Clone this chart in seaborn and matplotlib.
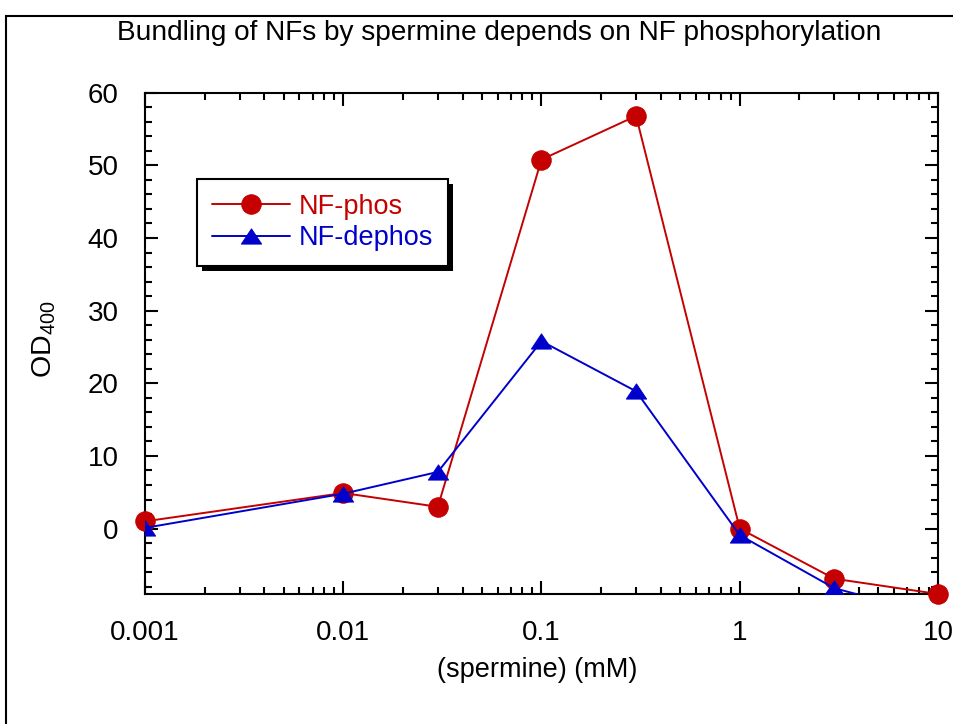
import matplotlib
matplotlib.use('Agg')
import matplotlib.pyplot as plt
import seaborn as sns
import pandas as pd
import matplotlib.patheffects as pe
from matplotlib.patches import Rectangle
from matplotlib.path import Path
from matplotlib.ticker import FixedLocator, FixedFormatter, MultipleLocator, LogLocator, NullFormatter

# ---- data ----
spermine_mM = [0.001, 0.01, 0.03, 0.1, 0.3, 1, 3, 10]
nf_phos = [1.0, 4.9, 3.0, 50.8, 56.8, 0.0, -6.9, -9.0]
nf_dephos = [0.1, 4.8, 7.8, 25.8, 18.9, -0.9, -8.2, -12.0]
series_names = ['NF-phos', 'NF-dephos']
x_ticks = [0.001, 0.01, 0.1, 1, 10]
x_tick_labels = ['0.001', '0.01', '0.1', '1', '10']
y_ticks = [0, 10, 20, 30, 40, 50, 60]
y_tick_labels = ['0', '10', '20', '30', '40', '50', '60']

RED = '#C40000'
BLUE = '#0000CC'

sns.set_style('ticks')
plt.rcParams['font.family'] = ['Liberation Sans', 'DejaVu Sans']
plt.rcParams['mathtext.fontset'] = 'custom'
plt.rcParams['mathtext.rm'] = 'Liberation Sans'
plt.rcParams['mathtext.it'] = 'Liberation Sans'
for k in ['text.color', 'axes.labelcolor', 'xtick.color', 'ytick.color', 'axes.edgecolor']:
    plt.rcParams[k] = 'black'

W, H = 954, 724
fig = plt.figure(figsize=(W / 100, H / 100), dpi=100)
ax = fig.add_axes([145 / W, 130 / H, 793 / W, 501.3 / H])

df = pd.DataFrame({'conc': spermine_mM, series_names[0]: nf_phos, series_names[1]: nf_dephos})

tri = Path([(0, 0.75), (-1, -0.75), (1, -0.75), (0, 0.75)],
           [Path.MOVETO, Path.LINETO, Path.LINETO, Path.CLOSEPOLY])

sns.lineplot(data=df, x='conc', y=series_names[0], color=RED, marker='o',
             markersize=14, markeredgecolor=RED, linewidth=1.4,
             label=series_names[0], ax=ax, zorder=3)
sns.lineplot(data=df, x='conc', y=series_names[1], color=BLUE, marker=tri,
             markersize=14.5, markeredgecolor=BLUE, linewidth=1.4,
             label=series_names[1], ax=ax, zorder=4)
ax.lines[0].set_clip_on(False)

ax.set_xscale('log')
ax.set_xlim(0.001, 10)
ax.set_ylim(-9, 60)

ax.xaxis.set_major_locator(FixedLocator(x_ticks))
ax.xaxis.set_major_formatter(FixedFormatter(x_tick_labels))
ax.xaxis.set_minor_locator(LogLocator(base=10, subs=range(2, 10)))
ax.xaxis.set_minor_formatter(NullFormatter())
ax.yaxis.set_major_locator(FixedLocator(y_ticks))
ax.yaxis.set_major_formatter(FixedFormatter(y_tick_labels))
ax.yaxis.set_minor_locator(MultipleLocator(2))

ax.tick_params(which='both', direction='in', top=True, right=True,
               width=1.5, color='black', labelcolor='black')
ax.tick_params(which='major', length=9.4, labelsize=20, pad=19)
ax.tick_params(which='minor', length=4.7)
for s in ax.spines.values():
    s.set_linewidth(1.5)
    s.set_color('black')

ax.set_xlabel('(spermine) (mM)', fontsize=19.5, color='black')
ax.xaxis.set_label_coords(0.494, -0.126)
ax.set_ylabel(r'OD$_{\mathregular{400}}$', fontsize=20.5, color='black')
ax.yaxis.set_label_coords(-0.11, 0.509)

fig.text(499.5 / W, 1 - 33 / H, 'Bundling of NFs by spermine depends on NF phosphorylation',
         ha='center', va='center', fontsize=20.2, color='black')

leg = ax.legend(loc='upper left', bbox_to_anchor=(0.0656, 0.828), borderaxespad=0,
                fontsize=19.5, frameon=True, fancybox=False, handlelength=2.9,
                handletextpad=0.3, borderpad=0.55, labelspacing=0.2)
frame = leg.get_frame()
frame.set_edgecolor('black')
frame.set_linewidth(1.5)
frame.set_alpha(1)
frame.set_path_effects([pe.SimplePatchShadow(offset=(3.6, -3.6), shadow_rgbFace='black', alpha=1.0),
                        pe.Normal()])
for txt, ln in zip(leg.get_texts(), leg.get_lines()):
    txt.set_color(ln.get_color())

fig.add_artist(Rectangle((6 / W, -0.1), 2.0, 1.1 - 16 / H, transform=fig.transFigure,
                         fill=False, edgecolor='black', linewidth=1.5))

fig.savefig('out.png', dpi=100)
